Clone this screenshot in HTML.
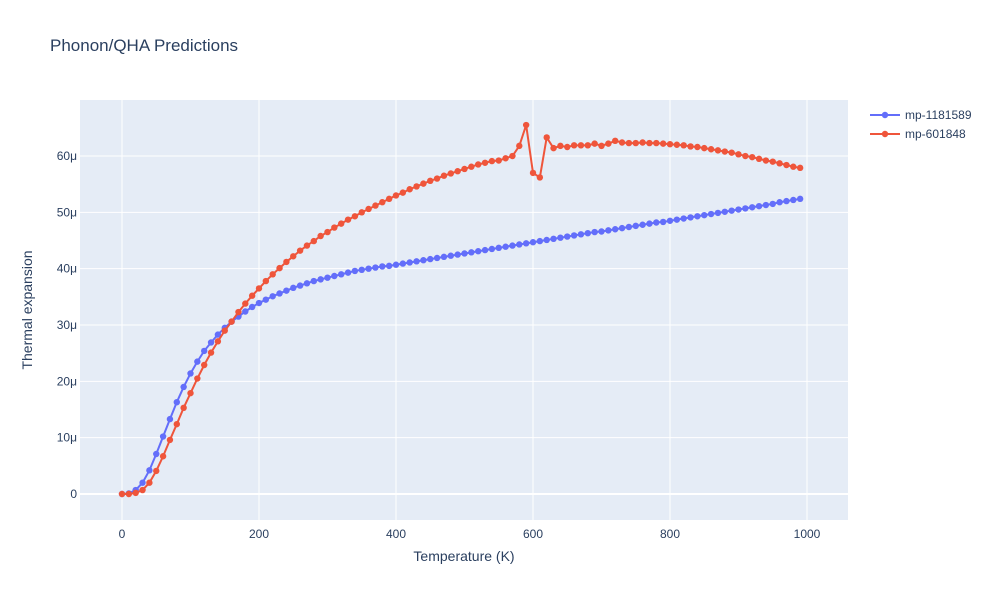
<!DOCTYPE html>
<html><head><meta charset="utf-8"><style>
body{margin:0;background:#fff;font-family:"Liberation Sans",sans-serif}
svg text{font-family:"Liberation Sans",sans-serif}
</style></head><body>
<svg id="c" width="1000" height="600">
<rect width="1000" height="600" fill="#fff"/>
<text x="50" y="51" font-size="17" fill="#2a3f5f">Phonon/QHA Predictions</text>
<rect x="80" y="100" width="768" height="420" fill="#e5ecf6"/>
<g id="grid"></g><g id="series"></g>
<text x="464" y="561" font-size="14" fill="#2a3f5f" text-anchor="middle">Temperature (K)</text>
<text transform="translate(32,310) rotate(-90)" font-size="14" fill="#2a3f5f" text-anchor="middle">Thermal expansion</text>
<g id="legend"></g>
</svg>
<script>
const temps=[];for(let t=0;t<=990;t+=10)temps.push(t);
const xTicks=[0,200,400,600,800,1000];
const yTicks=[0,10,20,30,40,50,60];
const yTickLabels=["0","10μ","20μ","30μ","40μ","50μ","60μ"];
const seriesNames=["mp-1181589","mp-601848"];
const blue=[0,0.1,0.7,2.0,4.2,7.1,10.2,13.3,16.3,19.0,21.4,23.5,25.4,26.9,28.3,29.5,30.6,31.5,32.4,33.2,
33.9,34.5,35.1,35.6,36.1,36.6,37.0,37.4,37.8,38.1,38.4,38.7,39.0,39.3,39.6,39.8,40.0,40.2,40.4,40.5,
40.7,40.9,41.1,41.3,41.5,41.7,41.9,42.1,42.3,42.5,42.7,42.9,43.1,43.3,43.5,43.7,43.9,44.1,44.3,44.5,
44.7,44.9,45.1,45.3,45.5,45.7,45.9,46.1,46.3,46.5,46.6,46.8,47.0,47.2,47.4,47.6,47.8,48.0,48.2,48.3,
48.5,48.7,48.9,49.1,49.3,49.5,49.7,49.9,50.1,50.3,50.5,50.7,50.9,51.1,51.3,51.5,51.8,52.0,52.2,52.4];
const red=[0,0,0.2,0.7,2.0,4.1,6.7,9.6,12.4,15.3,17.9,20.5,22.9,25.1,27.1,29.0,30.6,32.3,33.8,35.2,
36.5,37.8,39.0,40.1,41.2,42.2,43.2,44.1,44.9,45.8,46.5,47.3,48.0,48.7,49.3,50.0,50.6,51.2,51.8,52.4,
53.0,53.5,54.1,54.6,55.1,55.6,56.0,56.5,56.9,57.3,57.7,58.1,58.5,58.8,59.1,59.2,59.6,60.0,61.8,65.5,
57.0,56.2,63.3,61.4,61.8,61.6,61.9,61.9,61.9,62.2,61.8,62.2,62.7,62.4,62.3,62.3,62.4,62.3,62.3,62.2,
62.1,62.0,61.9,61.7,61.6,61.4,61.2,61.0,60.8,60.6,60.3,60.0,59.8,59.5,59.2,59.0,58.7,58.4,58.1,57.9];
const colors=["#636efa","#ef553b"];
const X=t=>122+t*0.685, Y=v=>494-v*5.633;
const NS="http://www.w3.org/2000/svg";
function mk(tag,attrs,parent){const e=document.createElementNS(NS,tag);for(const k in attrs)e.setAttribute(k,attrs[k]);parent.appendChild(e);return e;}
const grid=document.getElementById('grid');
xTicks.forEach(t=>{
 const l=mk('line',{x1:X(t),x2:X(t),y1:100,y2:520,stroke:'#fff','stroke-width':1},grid);
 
 
 const tx=mk('text',{x:X(t),y:538,'font-size':12,fill:'#2a3f5f','text-anchor':'middle'},grid);tx.textContent=t;
 
 
});
yTicks.forEach((v,i)=>{
 const l=mk('line',{x1:80,x2:848,y1:Y(v),y2:Y(v),stroke:'#fff','stroke-width':v===0?2:1},grid);
 
 
 const tx=mk('text',{x:77,y:Y(v)+4,'font-size':12,fill:'#2a3f5f','text-anchor':'end'},grid);tx.textContent=yTickLabels[i];
 
 
});
const sg=document.getElementById('series');
[blue,red].forEach((d,si)=>{
 const g=mk('g',{},sg);
 
 
 const pts=d.map((v,i)=>X(temps[i])+','+Y(v)).join(' ');
 const pl=mk('polyline',{points:pts,fill:'none',stroke:colors[si],'stroke-width':2},g);
 
 
 d.forEach((v,i)=>{const c=mk('circle',{cx:X(temps[i]),cy:Y(v),r:3.2,fill:colors[si]},g);
  
  });
});
const lg=document.getElementById('legend');
seriesNames.forEach((n,i)=>{
 const y=115+i*19;
 const g=mk('g',{},lg);
 
 
 mk('line',{x1:870,x2:900,y1:y,y2:y,stroke:colors[i],'stroke-width':2},g);
 mk('circle',{cx:885,cy:y,r:3.2,fill:colors[i]},g);
 const t=mk('text',{x:905,y:y+4,'font-size':12,fill:'#2a3f5f'},g);t.textContent=n;
});
</script>
</body></html>
